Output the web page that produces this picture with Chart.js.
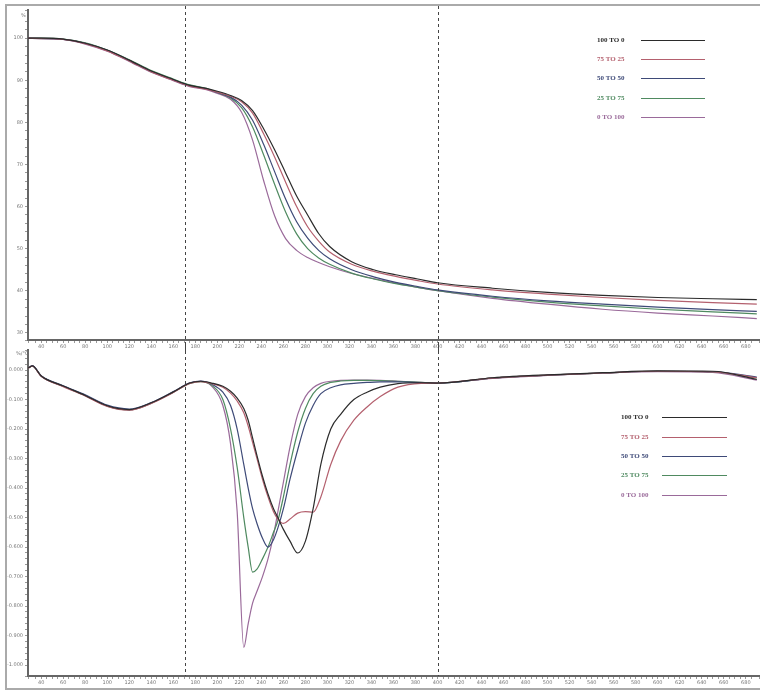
<!DOCTYPE html>
<html><head><meta charset="utf-8">
<script src="https://cdn.jsdelivr.net/npm/chart.js@4.4.1/dist/chart.umd.min.js"></script>
<style>
html,body{margin:0;padding:0;background:#fff;width:760px;height:694px;overflow:hidden;}
#frame{position:absolute;left:5px;top:4px;width:800px;height:686px;border:2px solid #aaa;box-sizing:border-box;}
#c1{position:absolute;left:0;top:0;}
#c2{position:absolute;left:0;top:345px;}
</style></head><body>
<div id="frame"></div>
<canvas id="c1" width="760" height="352"></canvas>
<canvas id="c2" width="760" height="349"></canvas>
<script>
const seriesNames = ['100 TO 0','75 TO 25','50 TO 50','25 TO 75','0 TO 100'];
const seriesColors = ['#2b2b2b','#b4606e','#3e4a78','#4f8a60','#9a6a9a'];

// TGA (weight %) vs temperature (°C)
const tgaTemps = [28,40,60,80,100,120,140,160,175,190,200,212,222,232,242,252,262,272,282,292,302,322,342,362,382,400,450,500,550,600,650,690];
const tga100to0 = [100.0,100.0,99.8,98.8,97.2,94.8,92.2,90.2,88.8,88.1,87.4,86.4,85.2,82.8,78.5,73.5,68.0,62.5,58.0,53.6,50.5,46.9,45.0,43.8,42.8,41.9,40.6,39.6,38.9,38.4,38.1,37.9];
const tga75to25 = [100.0,99.9,99.7,98.7,97.0,94.6,92.0,90.0,88.6,87.9,87.2,86.2,84.9,82.2,77.3,71.8,65.8,60.0,55.2,51.8,49.2,46.3,44.6,43.4,42.4,41.6,40.2,39.2,38.4,37.7,37.2,36.8];
const tga50to50 = [100.0,99.9,99.7,98.8,97.1,94.7,92.1,90.1,88.7,88.0,87.1,86.0,84.1,80.5,74.8,68.3,61.8,56.4,52.5,49.6,47.6,45.0,43.3,42.0,41.0,40.2,38.7,37.6,36.8,36.1,35.5,35.1];
const tga25to75 = [100.0,100.0,99.8,98.9,97.2,94.9,92.3,90.3,88.9,88.1,87.1,85.8,83.5,78.9,72.3,65.3,58.7,53.5,50.0,47.8,46.3,44.2,42.8,41.7,40.8,40.0,38.5,37.3,36.4,35.6,35.0,34.5];
const tga0to100 = [100.0,100.0,99.7,98.6,96.9,94.5,91.9,89.9,88.5,87.8,86.9,85.5,82.4,75.8,66.2,57.8,52.4,49.6,47.9,46.7,45.7,44.1,42.9,41.8,40.8,40.0,38.2,36.8,35.6,34.7,34.0,33.4];

// DTG (%/°C) vs temperature (°C)
const dtgTemps = [28,32,40,60,80,100,120,140,160,175,185,195,205,212,218,224,228,232,236,241,246,251,255,260,266,273,280,287,294,303,312,324,336,348,364,385,400,450,500,550,600,650,690];
const dtg100to0 = [0.007,0.014,-0.020,-0.054,-0.086,-0.121,-0.134,-0.111,-0.074,-0.044,-0.038,-0.044,-0.055,-0.072,-0.095,-0.130,-0.170,-0.230,-0.290,-0.360,-0.420,-0.470,-0.500,-0.540,-0.580,-0.620,-0.580,-0.470,-0.320,-0.200,-0.150,-0.100,-0.075,-0.058,-0.046,-0.043,-0.044,-0.026,-0.016,-0.009,-0.003,-0.004,-0.032];
const dtg75to25 = [0.006,0.013,-0.021,-0.056,-0.088,-0.123,-0.136,-0.113,-0.076,-0.045,-0.039,-0.046,-0.058,-0.078,-0.105,-0.145,-0.190,-0.245,-0.300,-0.370,-0.430,-0.480,-0.505,-0.520,-0.505,-0.485,-0.480,-0.482,-0.430,-0.320,-0.240,-0.170,-0.125,-0.090,-0.058,-0.045,-0.044,-0.027,-0.017,-0.010,-0.004,-0.006,-0.026];
const dtg50to50 = [0.007,0.014,-0.019,-0.053,-0.084,-0.119,-0.132,-0.110,-0.073,-0.043,-0.037,-0.048,-0.075,-0.120,-0.200,-0.320,-0.400,-0.470,-0.520,-0.570,-0.600,-0.575,-0.535,-0.470,-0.370,-0.270,-0.180,-0.120,-0.080,-0.060,-0.050,-0.045,-0.042,-0.040,-0.040,-0.043,-0.044,-0.027,-0.017,-0.010,-0.004,-0.005,-0.024];
const dtg25to75 = [0.006,0.013,-0.020,-0.055,-0.087,-0.122,-0.135,-0.112,-0.075,-0.045,-0.039,-0.052,-0.100,-0.200,-0.330,-0.500,-0.600,-0.685,-0.675,-0.640,-0.600,-0.550,-0.510,-0.430,-0.320,-0.210,-0.130,-0.080,-0.055,-0.042,-0.037,-0.035,-0.035,-0.036,-0.038,-0.042,-0.044,-0.027,-0.017,-0.010,-0.004,-0.006,-0.027];
const dtg0to100 = [0.007,0.014,-0.021,-0.055,-0.086,-0.122,-0.135,-0.112,-0.075,-0.044,-0.038,-0.055,-0.120,-0.250,-0.480,-0.940,-0.860,-0.790,-0.750,-0.700,-0.640,-0.560,-0.480,-0.380,-0.260,-0.150,-0.090,-0.060,-0.045,-0.038,-0.035,-0.034,-0.034,-0.035,-0.038,-0.042,-0.044,-0.028,-0.018,-0.010,-0.005,-0.008,-0.034];

const xTickLabels = [40,60,80,100,120,140,160,180,200,220,240,260,280,300,320,340,360,380,400,420,440,460,480,500,520,540,560,580,600,620,640,660,680];
const markerTemps = [171, 400];

const tgaSeries = [tga100to0,tga75to25,tga50to50,tga25to75,tga0to100];
const dtgSeries = [dtg100to0,dtg75to25,dtg50to50,dtg25to75,dtg0to100];

function makeDatasets(temps, series){
  return series.map((vals,i)=>({
    label: seriesNames[i],
    data: temps.map((t,j)=>({x:t,y:vals[j]})),
    borderColor: seriesColors[i],
    borderWidth: 1.2,
    pointRadius: 0,
    fill: false,
    tension: 0.4,
    cubicInterpolationMode: 'monotone'
  }));
}

const tickFont = {size:5, family:'DejaVu Sans'};
function xScale(){
  return {
    type:'linear', min:28, max:692,
    afterFit(s){ s.height = 12; },
    border:{display:true,color:'#666',width:2},
    grid:{display:true,drawOnChartArea:false,drawTicks:true,tickLength:3,color:'#999'},
    ticks:{stepSize:5,autoSkip:false,maxRotation:0,minRotation:0,padding:1,color:'#777',font:tickFont,
      callback:(v)=> xTickLabels.includes(v) ? String(v) : ''}
  };
}

const overlayPlugin = {
  id:'overlay',
  afterDatasetsDraw(chart, args, opts){
    const ctx = chart.ctx, xs = chart.scales.x, area = chart.chartArea;
    ctx.save();
    ctx.strokeStyle = '#444'; ctx.lineWidth = 1; ctx.setLineDash([3,3]);
    markerTemps.forEach(t=>{
      const px = Math.round(xs.getPixelForValue(t))+0.5;
      ctx.beginPath(); ctx.moveTo(px, opts.lineTop); ctx.lineTo(px, opts.lineBottom === 'canvas' ? chart.height : area.bottom); ctx.stroke();
    });
    ctx.setLineDash([]);
    ctx.font = 'bold 7px "Liberation Serif", "DejaVu Serif", serif';
    ctx.textBaseline = 'middle';
    seriesNames.forEach((n,i)=>{
      const y = opts.legY[i];
      ctx.fillStyle = seriesColors[i];
      ctx.fillText(n, opts.legTextX, y);
      ctx.strokeStyle = seriesColors[i]; ctx.lineWidth = 1.2;
      ctx.beginPath(); ctx.moveTo(opts.legLineX0, y+0.5); ctx.lineTo(opts.legLineX1, y+0.5); ctx.stroke();
    });
    ctx.font = '5px "DejaVu Sans"'; ctx.fillStyle = '#777';
    ctx.fillText(opts.unit, opts.unitX, opts.unitY);
    ctx.restore();
  }
};

new Chart(document.getElementById('c1'), {
  type:'line',
  data:{datasets: makeDatasets(tgaTemps, tgaSeries)},
  options:{
    responsive:false, animation:false,
    layout:{padding:{left:4,top:10,right:0,bottom:0}},
    plugins:{legend:{display:false}, tooltip:{enabled:false},
      overlay:{lineTop:6,lineBottom:'canvas',legY:[40,59,78,98,117],legTextX:597,legLineX0:641,legLineX1:705,unit:'%',unitX:21,unitY:16}},
    scales:{
      x: xScale(),
      y:{type:'linear',min:28.3,max:106.7,
        afterFit(s){ s.width = 24; },
        border:{display:true,color:'#666',width:2},
        grid:{display:true,drawOnChartArea:false,drawTicks:true,tickLength:3,color:'#999'},
        ticks:{stepSize:2,autoSkip:false,padding:2,color:'#777',font:tickFont,
          callback:(v)=> (Math.abs(v%10)<1e-6 && v>=30 && v<=100) ? String(v) : ''}}
    }
  },
  plugins:[overlayPlugin]
});

new Chart(document.getElementById('c2'), {
  type:'line',
  data:{datasets: makeDatasets(dtgTemps, dtgSeries)},
  options:{
    responsive:false, animation:false,
    layout:{padding:{left:4,top:5,right:0,bottom:6}},
    plugins:{legend:{display:false}, tooltip:{enabled:false},
      overlay:{lineTop:0,lineBottom:'area',legY:[72,92,111,130,150],legTextX:621,legLineX0:662,legLineX1:727,unit:'%/°C',unitX:16,unitY:9}},
    scales:{
      x: xScale(),
      y:{type:'linear',min:-1.037,max:0.068,
        afterFit(s){ s.width = 24; },
        border:{display:true,color:'#666',width:2},
        grid:{display:true,drawOnChartArea:false,drawTicks:true,tickLength:3,color:'#999'},
        ticks:{stepSize:0.02,autoSkip:false,padding:2,color:'#777',font:tickFont,
          callback:(v)=>{ const r = Math.round(v*10); if (Math.abs(v*10 - r) < 1e-6 && r<=0 && r>=-10) { return r===0 ? '0.000' : (r/10).toFixed(3); } return ''; }}}
    }
  },
  plugins:[overlayPlugin]
});
</script>
</body></html>
